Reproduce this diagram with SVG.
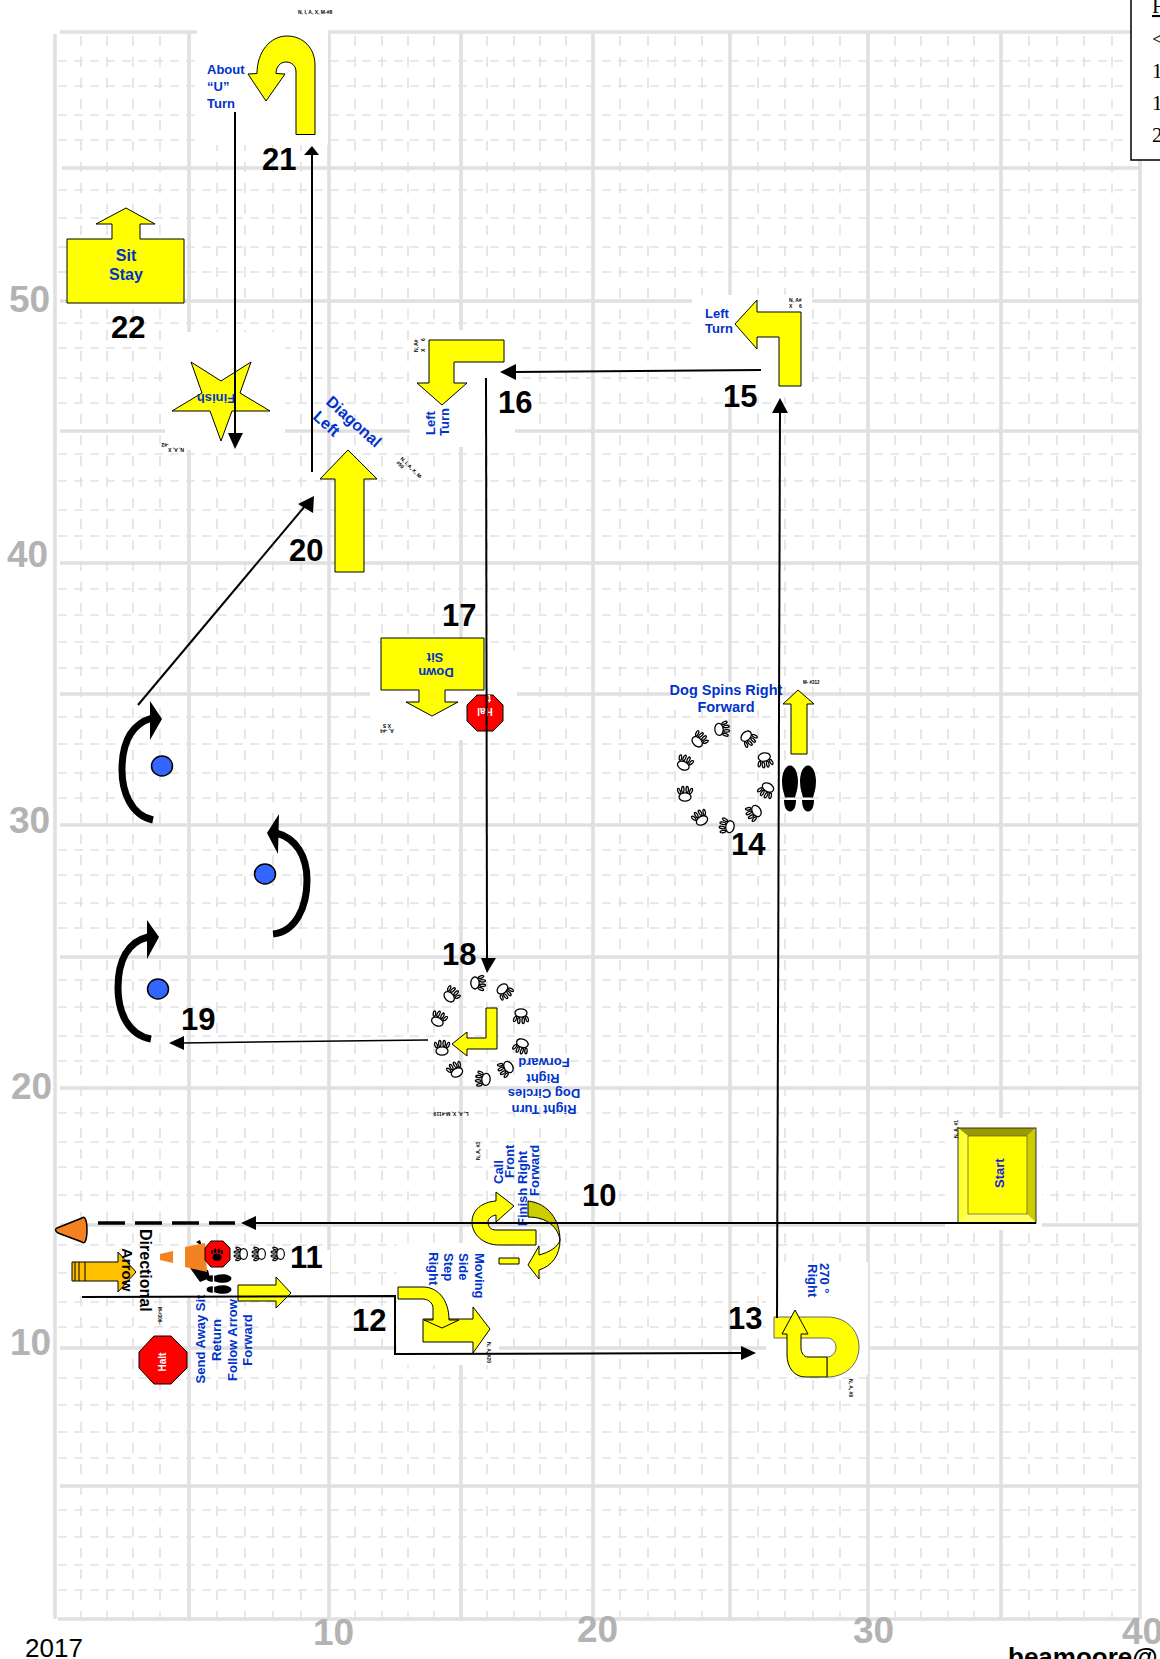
<svg xmlns="http://www.w3.org/2000/svg" width="1160" height="1659" viewBox="0 0 1160 1659">
<style>
text{font-family:"Liberation Sans",Arial,sans-serif}
.maj{fill:none;stroke:#e0e0e0;stroke-width:3.6}
.minh{fill:none;stroke:#e2e2e2;stroke-width:1.6;stroke-dasharray:9 7}
.minv{fill:none;stroke:#e2e2e2;stroke-width:1.6;stroke-dasharray:10 11}
.y{fill:#ffff00;stroke:#000;stroke-width:1}
.o{fill:#ff0000;stroke:#000;stroke-width:1}
.b{font-size:13px;font-weight:700;fill:#0033cc}
.n{font-size:31px;font-weight:700;fill:#000}
.g{font-size:37px;font-weight:700;fill:#b3b3b3}
.t{font-size:5px;font-weight:700;fill:#000}
.c{text-anchor:middle}
.w{fill:#fff;font-weight:700;font-size:10px}
.l{fill:none;stroke:#000;stroke-width:2}
.arc{fill:none;stroke:#000;stroke-width:7}
.h{fill:#000}
.dot{fill:#3366ff;stroke:#000;stroke-width:1.5}
</style>
<defs>
<g id="paw">
<ellipse cx="0" cy="4" rx="6" ry="4.2" fill="#fff" stroke="#000" stroke-width="1.3"/>
<g fill="#fff" stroke="#000" stroke-width="1.3">
<ellipse cx="-6" cy="-2" rx="1.2" ry="2.8" transform="rotate(-20 -6 -2)"/>
<ellipse cx="-2.200" cy="-3.500" rx="1.200" ry="3"/>
<ellipse cx="2.200" cy="-3.500" rx="1.200" ry="3"/>
<ellipse cx="6" cy="-2" rx="1.2" ry="2.8" transform="rotate(20 6 -2)"/>
</g>
</g>
<g id="shoe">
<path d="M0 -23C5 -23 8 -15 8 -7C8 0 6 5 5 9H-5C-6 5 -8 0 -8 -7C-8 -15 -5 -23 0 -23Z"/>
<path d="M-6 11.500H6C6 18 4 23 0 23C-4 23 -6 18 -6 11.500Z"/>
</g>
</defs>
<rect width="1160" height="1659" fill="#fff"/>
<g id="grid">
<path class="minv" d="M81 36V1617M107 36V1617M133 36V1617M160 36V1617M217 36V1617M245 36V1617M273 36V1617M301 36V1617M355 36V1617M382 36V1617M408 36V1617M434 36V1617M487 36V1617M514 36V1617M540 36V1617M566 36V1617M620 36V1617M648 36V1617M675 36V1617M702 36V1617M758 36V1617M785 36V1617M813 36V1617M840 36V1617M895 36V1617M921 36V1617M948 36V1617M974 36V1617M1029 36V1617M1057 36V1617M1084 36V1617M1112 36V1617"/>
<path class="minh" d="M58 61H1136M58 86H1136M58 115H1136M58 140H1136M58 190H1136M58 218H1136M58 247H1136M58 272H1136M58 323H1136M58 348H1136M58 378H1136M58 403H1136M58 454H1136M58 481H1136M58 510H1136M58 536H1136M58 589H1136M58 615H1136M58 642H1136M58 668H1136M58 717H1136M58 744H1136M58 773H1136M58 798H1136M58 850H1136M58 875H1136M58 903H1136M58 928H1136M58 980H1136M58 1007H1136M58 1036H1136M58 1061H1136M58 1113H1136M58 1142H1136M58 1167H1136M58 1195H1136M58 1245H1136M58 1273H1136M58 1302H1136M58 1327H1136M58 1378H1136M58 1405H1136M58 1432H1136M58 1458H1136M58 1510H1136M58 1537H1136M58 1565H1136M58 1590H1136"/>
<path class="maj" d="M55 34V1619M189 34V1619M329 34V1619M461 34V1619M593 34V1619M730 34V1619M868 34V1619M1001 34V1619M1140 34V1619"/>
<path class="maj" d="M60 32H1136M62 168H1140M60 301H1140M60 431H1140M60 563H1140M60 694H1140M60 825H1140M60 957H1140M60 1088H1140M60 1225H1140M60 1348H1140M60 1486H1140M58 1619H1140"/>
<g fill="#fff">
<rect x="197" y="0" width="131" height="145"/>
<rect x="165" y="332" width="120" height="118"/>
<rect x="410" y="330" width="105" height="117"/>
<rect x="692" y="295" width="120" height="102"/>
<rect x="370" y="650" width="147" height="90"/>
<rect x="670" y="682" width="110" height="28"/>
<rect x="397" y="1243" width="102" height="122"/>
<rect x="766" y="1262" width="102" height="113"/>
<rect x="945" y="1118" width="97" height="112"/>
<rect x="75" y="1250" width="255" height="46"/>
</g>
</g>
<g id="side-labels">
<text class="g" x="9" y="312">50</text>
<text class="g" x="7" y="567">40</text>
<text class="g" x="9" y="833">30</text>
<text class="g" x="11" y="1099">20</text>
<text class="g" x="10" y="1355">10</text>
<text class="g" x="313" y="1645">10</text>
<text class="g" x="577" y="1642">20</text>
<text class="g" x="853" y="1643">30</text>
<text class="g" x="1122" y="1644">40</text>
<text x="25" y="1657" font-size="26" fill="#000">2017</text>
<text x="1008" y="1666" font-size="26" font-weight="700" fill="#000">beamoore@</text>
</g>
<g id="legend">
<rect x="1131" y="-4" width="40" height="164" fill="#fff" stroke="#000" stroke-width="1.5"/>
<g font-size="21" fill="#000">
<text x="1152" y="13" text-decoration="underline" style="font-family:'Liberation Serif',serif">F</text>
<text x="1152" y="46" style="font-family:'Liberation Serif',serif">&lt;</text>
<text x="1152" y="78" style="font-family:'Liberation Serif',serif">1</text>
<text x="1152" y="110" style="font-family:'Liberation Serif',serif">1</text>
<text x="1152" y="142" style="font-family:'Liberation Serif',serif">2</text>
</g>
</g>
<g id="sign-22">
<path class="y" d="M67 239H112V224H96L126 208L155 224H140V239H184V303H67Z"/>
<text class="b c" x="126" y="261" style="font-size:16px">Sit</text>
<text class="b c" x="126" y="280" style="font-size:16px">Stay</text>
<text class="n" x="111" y="338">22</text>
</g>
<g id="sign-21">
<path class="y" d="M315 134.500V65C315 48 303 36 287 36C270 36 257 52 257 73.500L248 74L266 101L285 74L276 73.500C276 67 280 62 286 62C292 62 296 66 296 72V134.500Z"/>
<text class="t" x="298" y="14">N, I, A, X, M-#8</text>
<text class="b" x="207" y="74">About</text>
<text class="b" x="207" y="91">“U”</text>
<text class="b" x="207" y="108">Turn</text>
<text class="n" x="262" y="170">21</text>
</g>
<g id="finish">
<path class="y" d="M191 362L221 381L251 362L240 393L270 411L232 411L221 441L210 411L172 411L202 393Z"/>
<text class="b c" transform="translate(216 393.500) rotate(180)">Finish</text>
<text class="t c" transform="translate(176 448) rotate(180)">N, A, X</text>
<text class="t c" transform="translate(165 443) rotate(180)">-#2</text>
</g>
<g id="sign-20">
<path class="y" d="M348 450L377 479H364V572H335V479H320Z"/>
<text class="b" transform="translate(325 403) rotate(42)" style="font-size:16px">Diagonal</text>
<text class="b" transform="translate(312 418) rotate(42)" style="font-size:16px">Left</text>
<text class="t" transform="translate(400 459) rotate(45)">N, I, A, X, M-</text>
<text class="t" transform="translate(396 463) rotate(45)">#50</text>
<text class="n" x="289" y="561">20</text>
</g>
<g id="sign-16">
<path class="y" d="M429 340H504V362H454V383H467L442 405L417 383H429Z"/>
<text class="b" transform="translate(435 435) rotate(-90)">Left</text>
<text class="b" transform="translate(449 436) rotate(-90)">Turn</text>
<text class="t" transform="translate(418 352) rotate(-90)">N, A#</text>
<text class="t" transform="translate(425 352) rotate(-90)">X</text>
<text class="t" transform="translate(425 341) rotate(-90)">6</text>
<text class="n" x="498" y="413">16</text>
</g>
<g id="sign-15">
<path class="y" d="M801 312H757V300L735 324L757 349V337H779V386H801Z"/>
<text class="b" x="705" y="318">Left</text>
<text class="b" x="705" y="333">Turn</text>
<text class="t" x="789" y="302">N, A#</text>
<text class="t" x="789" y="308">X</text>
<text class="t" x="799" y="308">6</text>
<text class="n" x="723" y="407">15</text>
</g>
<g id="sign-17">
<path class="y" d="M381 638H484V690H445V702H458L432 716L406 702H419V690H381Z"/>
<text class="b c" transform="translate(435 653) rotate(180)">Sit</text>
<text class="b c" transform="translate(436 668) rotate(180)">Down</text>
<text class="t c" transform="translate(387 729) rotate(180)">A, -#4</text>
<text class="t c" transform="translate(387 724) rotate(180)">X   S</text>
<text class="n" x="442" y="626">17</text>
</g>
<g id="halt-17">
<path class="o" d="M477 695H493L503 705V721L493 731H477L467 721V705Z"/>
<text class="w c" transform="translate(485 708) rotate(180)">Hal</text>
<text class="w" transform="translate(491 695) rotate(180)">t</text>
</g>
<g id="sign-14">
<text class="b c" x="726" y="695" style="font-size:14.500px">Dog Spins Right</text>
<text class="b c" x="726" y="712" style="font-size:14.500px">Forward</text>
<use href="#paw" transform="translate(723 729) rotate(85)"/>
<use href="#paw" transform="translate(700 739) rotate(45)"/>
<use href="#paw" transform="translate(685 762) rotate(25)"/>
<use href="#paw" transform="translate(685 793)"/>
<use href="#paw" transform="translate(700 817) rotate(-30)"/>
<use href="#paw" transform="translate(726 826) rotate(-80)"/>
<use href="#paw" transform="translate(753 813) rotate(-120)"/>
<use href="#paw" transform="translate(766 791) rotate(-150)"/>
<use href="#paw" transform="translate(765 761) rotate(170)"/>
<use href="#paw" transform="translate(749 739) rotate(135)"/>
<path class="y" d="M798 690L814 704H807V754H791V704H783Z"/>
<text class="t" x="803" y="684" style="font-size:4.500px">M- #312</text>
<use href="#shoe" transform="translate(790 788.500)"/>
<use href="#shoe" transform="translate(808 788.500)"/>
<text class="n" x="731" y="855">14</text>
</g>
<g id="sign-18">
<use href="#paw" transform="translate(479 983) rotate(90)"/>
<use href="#paw" transform="translate(452 994) rotate(45)"/>
<use href="#paw" transform="translate(439 1018) rotate(25)"/>
<use href="#paw" transform="translate(442 1047)"/>
<use href="#paw" transform="translate(455 1069) rotate(-30)"/>
<use href="#paw" transform="translate(482 1079) rotate(-85)"/>
<use href="#paw" transform="translate(505 1069) rotate(-120)"/>
<use href="#paw" transform="translate(521 1047) rotate(-160)"/>
<use href="#paw" transform="translate(521 1017) rotate(180)"/>
<use href="#paw" transform="translate(505 992) rotate(140)"/>
<path class="y" d="M497 1008H486V1038H467V1032L452 1044L467 1056V1049H497Z"/>
<text class="b c" transform="translate(544 1058) rotate(180)">Forward</text>
<text class="b c" transform="translate(543 1074) rotate(180)">Right</text>
<text class="b c" transform="translate(544 1089) rotate(180)">Dog Circles</text>
<text class="b c" transform="translate(544 1105) rotate(180)">Right Turn</text>
<text class="t c" transform="translate(451 1112) rotate(180)">L, A, X, M-#119</text>
<text class="n" x="442" y="965">18</text>
</g>
<g id="sign-19">
<path class="arc" d="M153 820C130 815 122 790 122 770C122 742 132 724 152 718"/>
<path class="h" d="M150 701L162 719L150 740Z"/>
<ellipse class="dot" cx="162" cy="766" rx="10.500" ry="10"/>
<path class="arc" d="M273 934C295 932 307 908 307 880C307 856 296 838 276 833"/>
<path class="h" d="M279 814L267 833L278 854Z"/>
<ellipse class="dot" cx="265" cy="874" rx="10.500" ry="10"/>
<path class="arc" d="M151 1039C128 1035 118 1012 118 988C118 960 128 942 148 937"/>
<path class="h" d="M147 920L159 937L147 959Z"/>
<ellipse class="dot" cx="158" cy="989" rx="10.500" ry="10"/>
<text class="n" x="181" y="1030">19</text>
</g>
<g id="sign-10">
<path class="y" d="M536 1230V1245H499C484 1245 472 1235 472 1222C472 1210 482 1202 496 1201V1192L514 1206L496 1222V1215C491 1216 488 1219 488 1222C488 1227 491 1230 496 1230Z"/>
<path d="M528 1201C548 1203 560 1220 560 1240C558 1228 548 1217 528 1217Z" fill="#cccc00" stroke="#000" stroke-width="1"/>
<path class="y" d="M560 1240C560 1255 552 1266 539 1270V1279L528 1265L539 1246V1255C550 1252 558 1247 560 1240Z"/>
<path class="y" d="M499 1258H519V1264H499Z"/>
<text class="b" transform="translate(503 1184) rotate(-90)">Call</text>
<text class="b" transform="translate(514 1178) rotate(-90)">Front</text>
<text class="b" transform="translate(527 1226) rotate(-90)">Finish Right</text>
<text class="b" transform="translate(539 1196) rotate(-90)">Forward</text>
<text class="t" transform="translate(480 1160) rotate(-90)">N, A, #3</text>
<text class="n" x="582" y="1206">10</text>
</g>
<g id="start">
<path d="M958 1128H1036L1027 1136H968Z" fill="#999900"/>
<path d="M958 1128L968 1136V1214L958 1223Z" fill="#ffff33"/>
<path d="M1036 1128L1027 1136V1214L1036 1223Z" fill="#cccc00"/>
<path d="M958 1223L968 1214H1027L1036 1223Z" fill="#ffff66"/>
<rect x="968" y="1136" width="59" height="78" fill="#ffff00" stroke="#555" stroke-width="0.700"/>
<rect x="958" y="1128" width="78" height="95" fill="none" stroke="#333" stroke-width="1"/>
<text class="b" transform="translate(1004 1188) rotate(-90)" style="fill:#2222dd">Start</text>
<text class="t" transform="translate(958 1138) rotate(-90)">N, A, #1</text>
</g>
<g id="sign-11">
<path d="M57 1228L82 1218C85 1215 87 1221 87 1230C87 1239 85 1245 82 1242L58 1233C55 1231 55 1229 57 1228Z" fill="#f58220" stroke="#000" stroke-width="1.500"/>
<path d="M72 1262H118V1252L136 1272L118 1292V1281H72Z" fill="#ffc000" stroke="#000" stroke-width="1"/>
<path d="M75 1262V1281M79 1262V1281M85 1262V1281" stroke="#000" stroke-width="1" fill="none"/>
<text transform="translate(122 1248) rotate(90)" font-size="15" font-weight="700" fill="#000">Arrow</text>
<text transform="translate(140 1229) rotate(90)" font-size="16" font-weight="700" fill="#000">Directional</text>
<text transform="translate(158 1307) rotate(90)" font-size="4.500" font-weight="700" fill="#000">M-#306-</text>
<path class="h" d="M190 1268L208 1270L210 1278L200 1282ZM196 1242L200 1240L202 1246Z"/>
<path d="M160 1254L173 1251V1263L160 1260Z" fill="#f58220"/>
<path d="M173 1251L185 1247V1267L173 1263Z" fill="#fff"/>
<path d="M185 1247L205 1243L207 1272L185 1267Z" fill="#f58220"/>
<path class="o" d="M211 1241H223L230 1248V1260L223 1267H211L205 1260V1248Z"/>
<g transform="translate(217 1254) scale(0.800)"><ellipse cx="0" cy="4" rx="5.500" ry="4.500"/><ellipse cx="-6" cy="-2.500" rx="1.500" ry="2.800"/><ellipse cx="-2.200" cy="-4" rx="1.500" ry="3"/><ellipse cx="2.200" cy="-4" rx="1.500" ry="3"/><ellipse cx="6" cy="-2.500" rx="1.500" ry="2.800"/></g>
<use href="#paw" transform="translate(240 1254) rotate(-90) scale(0.900)"/>
<use href="#paw" transform="translate(258 1254) rotate(-90) scale(0.900)"/>
<use href="#paw" transform="translate(277 1254) rotate(-90) scale(0.900)"/>
<use href="#shoe" transform="translate(219 1278.500) rotate(90) scale(0.540)"/>
<use href="#shoe" transform="translate(219 1289.500) rotate(90) scale(0.540)"/>
<path class="y" d="M238 1285H276V1277L291 1293L276 1308V1301H238Z"/>
<text class="n" x="290" y="1268">11</text>
<path class="o" d="M154 1336H171L187 1352V1368L171 1384H154L139 1368V1352Z"/>
<text class="w c" transform="translate(166 1362) rotate(-90)">Halt</text>
<text class="b c" transform="translate(205 1339) rotate(-90)">Send Away Sit</text>
<text class="b c" transform="translate(221 1340) rotate(-90)">Return</text>
<text class="b c" transform="translate(237 1340) rotate(-90)">Follow Arrow</text>
<text class="b c" transform="translate(252 1340) rotate(-90)">Forward</text>
</g>
<g id="sign-12">
<path class="y" d="M423 1319H473V1307L490 1329L473 1353V1342H423Z"/>
<path class="y" d="M398 1287H423C438 1287 449 1300 449 1320H459L442 1328L424 1320H433V1308C433 1303 428 1299 423 1299H398Z"/>
<text class="b" transform="translate(475 1253) rotate(90)">Moving</text>
<text class="b" transform="translate(459 1253) rotate(90)">Side</text>
<text class="b" transform="translate(444 1253) rotate(90)">Step</text>
<text class="b" transform="translate(429 1252) rotate(90)">Right</text>
<text class="t" transform="translate(487 1342) rotate(90)">N, A, #20</text>
<text class="n" x="352" y="1331">12</text>
</g>
<g id="sign-13">
<path class="y" style="stroke:#666" d="M774 1317H827C846 1317 859 1330 859 1347C859 1364 846 1377 827 1377V1357C832 1357 836 1353 836 1347C836 1342 832 1338 827 1338H774Z"/>
<path class="y" d="M827 1377H805C795 1377 787 1368 787 1355V1334H782L795 1310L808 1334H801V1348C801 1353 804 1357 808 1357H827Z"/>
<text class="b" transform="translate(820 1263) rotate(90)">270 °</text>
<text class="b" transform="translate(808 1264) rotate(90)">Right</text>
<text class="t" transform="translate(849 1379) rotate(90)">N, A, #9</text>
<text class="n" x="728" y="1329">13</text>
</g>
<g id="connectors">
<path class="l" d="M1036 1223H254"/><path class="h" d="M241 1223L256 1216V1230Z"/>
<path d="M98 1223H235" fill="none" stroke="#000" stroke-width="3.500" stroke-dasharray="27 10"/>
<path class="l" d="M82 1297L395 1296V1354L741 1353"/><path class="h" d="M756 1353L741 1346V1360Z"/>
<path class="l" d="M777 1318L780 411"/><path class="h" d="M780 398L772 413H788Z"/>
<path class="l" d="M761 370L514 372"/><path class="h" d="M500 372L516 364V380Z"/>
<path class="l" d="M486 378L487 960"/><path class="h" d="M487 973L481 958H496Z"/>
<path d="M428 1040L182 1043" fill="none" stroke="#000" stroke-width="1.500"/><path class="h" d="M169 1043L184 1036V1050Z"/>
<path class="l" d="M138 705L305 506"/><path class="h" d="M314 496L298 504L313 513Z"/>
<path class="l" d="M312 472V153"/><path class="h" d="M312 146L319 155H304Z"/>
<path class="l" d="M235 112V436"/><path class="h" d="M235 449L228 433H243Z"/>
</g>
</svg>
